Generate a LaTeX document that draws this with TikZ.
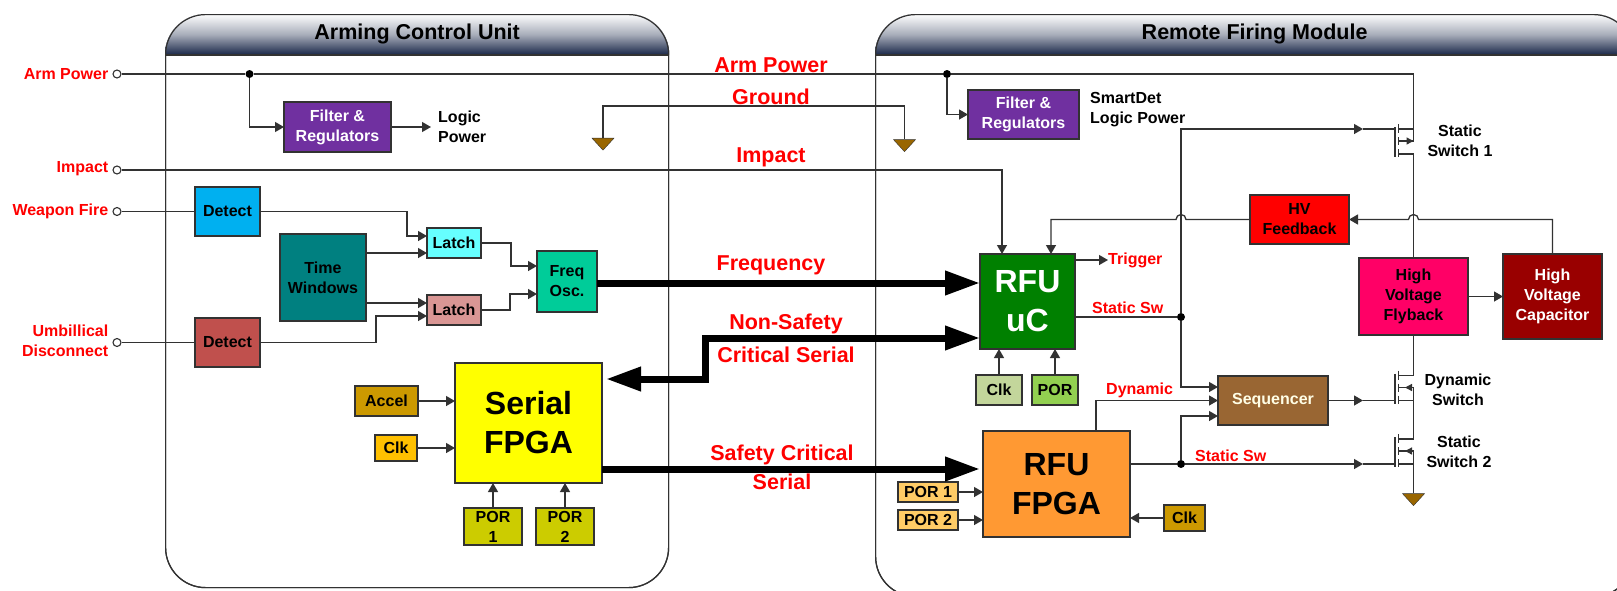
\documentclass[tikz,border=0pt]{standalone}
\usepackage{fontspec}
\setmainfont{Liberation Sans}
\usepackage{xcolor}
\usepackage{tikz}
\usetikzlibrary{arrows.meta,positioning,shapes.geometric}
\definecolor{wirecolor}{RGB}{50,50,50}
\definecolor{headercolor}{RGB}{24,38,72}
\definecolor{filtercolor}{RGB}{112,48,160}
\definecolor{accelcolor}{RGB}{204,153,0}
\definecolor{porcolor}{RGB}{204,204,0}
\definecolor{groundcolor}{RGB}{153,102,0}
\definecolor{purered}{RGB}{255,0,0}
\definecolor{pureyellow}{RGB}{255,255,0}

\begin{document}
\begin{tikzpicture}[
    x=1pt, y=-1pt,
    panel/.style={rectangle, draw=wirecolor, line width=1.2pt, rounded corners=40pt, anchor=north west, inner sep=0pt},
    header/.style={top color=white, bottom color=headercolor, middle color=white!62!headercolor},
    unittitle/.style={font=\fontsize{21.5}{24}\selectfont\bfseries, inner sep=0pt},
    block/.style={rectangle, draw=wirecolor, line width=1.2pt, inner sep=0pt, outer sep=0pt, align=center, font=\fontsize{16}{20}\selectfont\bfseries},
    bigblock/.style={block, font=\fontsize{32}{39}\selectfont\bfseries},
    boxsize/.style 2 args={minimum width=#1pt, minimum height=#2pt},
    wire/.style={draw=wirecolor, line width=1.3pt, >={Triangle[length=9pt,width=10pt]}},
    bigwire/.style={draw=black, line width=7pt, >={Triangle[length=35pt,width=23pt]}},
    junction/.style={circle, fill=black, inner sep=0pt, minimum size=8pt},
    terminal/.style={circle, draw=wirecolor, fill=white, line width=1.1pt, inner sep=0pt, minimum size=8pt},
    ground/.style={isosceles triangle, isosceles triangle stretches, shape border rotate=-90, draw=wirecolor, fill=groundcolor, inner sep=0pt, minimum height=12pt, minimum width=22pt},
    redtext/.style={text=purered, inner sep=0pt, align=right, font=\fontsize{16}{20}\selectfont\bfseries},
    bigred/.style={text=purered, inner sep=0pt, align=center, font=\fontsize{21.5}{29}\selectfont\bfseries},
    plaintext/.style={inner sep=0pt, font=\fontsize{16}{20}\selectfont\bfseries}
]
\useasboundingbox (0,0) rectangle (1617,590);
\clip (0,0) rectangle (1617,590);

% Panels
\node[panel, boxsize={503}{573}] (acu) at (165,14) {};
\node[panel, boxsize={758}{582}] (rfm) at (875,14) {};
\foreach \unit in {acu,rfm} {
  \shade[header] ([yshift=-41pt]\unit.north west) [rounded corners=40pt] -- (\unit.north west) -- (\unit.north east) [sharp corners] -- ([yshift=-41pt]\unit.north east) -- cycle;
  \draw[wirecolor, line width=1.2pt] ([yshift=-41pt]\unit.north west) -- ([yshift=-41pt]\unit.north east);
}
\node[panel, boxsize={503}{573}] at (165,14) {};
\node[panel, boxsize={758}{582}] at (875,14) {};
\node[unittitle, yshift=-20pt] (acutitle) at (acu.north) {Arming Control Unit};
\node[unittitle, yshift=-20pt] (rfmtitle) at (rfm.north) {Remote Firing Module};

% Inputs
\node[terminal] (armIn) at (117,74) {};
\node[terminal] (impactIn) at (117,170) {};
\node[terminal] (fireIn) at (117,211.5) {};
\node[terminal] (umbIn) at (117,342.5) {};
\node[redtext, left=4pt of armIn] (armLabel) {Arm Power};
\node[redtext, left=4pt of impactIn, yshift=1pt] (impactLabel) {Impact};
\node[redtext, left=4pt of fireIn] (fireLabel) {Weapon Fire};
\node[redtext, left=4pt of umbIn, yshift=2pt] (umbLabel) {Umbillical\\Disconnect};

% Arming Control Unit
\node[junction] (armDotA) at (249.5,74) {};
\node[block, boxsize={107}{50}, fill=filtercolor, text=white] (filtera) at (337.5,127) {Filter \&\\Regulators};
\node[plaintext, align=left, right=47pt of filtera] (logica) {Logic\\Power};
\node[block, boxsize={65}{49}, fill={rgb,255:red,0;green,176;blue,240}, anchor=north west] (fireDetect) at (195,187) {Detect};
\node[block, boxsize={65}{49}, fill={rgb,255:red,192;green,80;blue,77}, below=82pt of fireDetect] (umbDetect) {Detect};
\node[block, boxsize={86}{87}, fill={rgb,255:red,0;green,128;blue,128}, below right=-2pt and 20pt of fireDetect] (timeWin) {Time\\Windows};
\node[block, boxsize={54}{30}, fill={rgb,255:red,102;green,255;blue,255}, below right=-6pt and 61pt of timeWin.north east] (latcha) {Latch};
\node[block, boxsize={54}{30}, fill={rgb,255:red,217;green,150;blue,148}, below=37pt of latcha] (latchb) {Latch};
\node[block, boxsize={60}{61}, fill={rgb,255:red,0;green,204;blue,153}, below right=23pt and 56pt of latcha.north east] (freq) {Freq\\Osc.};
\node[bigblock, boxsize={147}{120}, fill=pureyellow, below right=38pt and 28pt of latchb.south west] (serial) {Serial\\FPGA};
\node[block, boxsize={63}{30}, fill=accelcolor, below left=23pt and 37pt of serial.north west] (accel) {Accel};
\node[block, boxsize={42}{26}, fill={rgb,255:red,255;green,192;blue,0}, below left=72pt and 38pt of serial.north west] (clka) {Clk};
\node[block, boxsize={58}{37}, fill=porcolor, below right=25pt and 9pt of serial.south west] (pora) {POR\\1};
\node[block, boxsize={58}{37}, fill=porcolor, right=14pt of pora] (porb) {POR\\2};

% Remote Firing Module
\node[junction] (armDotB) at (947,74) {};
\node[block, boxsize={111}{49}, fill=filtercolor, text=white] (filterb) at (1023.5,114.5) {Filter \&\\Regulators};
\node[plaintext, align=left, right=11pt of filterb, yshift=5pt] (logicb) {SmartDet\\Logic Power};
\node[bigblock, boxsize={95}{95}, fill={rgb,255:red,0;green,128;blue,0}, text=white] (uc) at (1027.5,301.5) {RFU\\uC};
\node[block, boxsize={46}{30}, fill={rgb,255:red,195;green,214;blue,155}, below left=26pt and 5.5pt of uc.south] (clkuc) {Clk};
\node[block, boxsize={46}{30}, fill={rgb,255:red,146;green,208;blue,80}, right=10pt of clkuc] (poruc) {POR};
\node[bigblock, boxsize={147}{106}, fill={rgb,255:red,255;green,153;blue,51}, below right=82pt and 3pt of uc.south west] (fpga) {RFU\\FPGA};
\node[block, boxsize={60}{20}, fill={rgb,255:red,255;green,204;blue,102}, below left=51pt and 25pt of fpga.north west] (porone) {POR 1};
\node[block, boxsize={60}{20}, fill={rgb,255:red,255;green,204;blue,102}, below=8pt of porone] (portwo) {POR 2};
\node[block, boxsize={41}{26}, fill=accelcolor, below right=74pt and 34pt of fpga.north east] (clkf) {Clk};
\node[block, boxsize={110}{49}, fill={rgb,255:red,153;green,102;blue,51}, text=white!90!yellow, above right=6pt and 88pt of fpga.north east] (seq) {Sequencer};
\node[block, boxsize={99}{49}, fill=purered] (hv) at (1299.5,219.5) {HV\\Feedback};
\node[block, boxsize={109}{77}, fill={rgb,255:red,255;green,0;blue,102}] (fly) at (1413.5,296.5) {High\\Voltage\\Flyback};
\node[block, boxsize={99}{85}, fill={rgb,255:red,153;green,0;blue,0}, text=white, right=35pt of fly] (cap) {High\\Voltage\\Capacitor};
\node[junction] (staticDotA) at (1181,317) {};
\node[junction] (staticDotB) at (1181,464) {};
\coordinate (hopA) at (1181,219.5);

% Grounds
\node[ground] (gnda) at (603,143) {};
\node[ground] (gndb) at (904.5,144.5) {};
\node[ground] (gndc) at (1413.5,498.5) {};

% Switches
\foreach \sw/\ty/\gy/\tip in {swa/129/129/->, swb/375.5/400.5/<-, swc/439/464/<-} {
  \coordinate (\sw-top) at (1413.5,\ty);
  \coordinate (\sw-mid) at (1413.5,\ty+12);
  \coordinate (\sw-bot) at (1413.5,\ty+25);
  \coordinate (\sw-gate) at (1395,\gy);
  \coordinate (\sw-in) at (1363,\gy);
  \draw[wire] (\sw-in) -- (\sw-gate);
  \draw[wire] (1395,\ty-2) -- (1395,\ty+28);
  \draw[wire] (1398.5,\ty-5) -- (1398.5,\ty+4);
  \draw[wire] (1398.5,\ty+8) -- (1398.5,\ty+16);
  \draw[wire] (1398.5,\ty+20) -- (1398.5,\ty+28);
  \draw[wire] (\sw-top) -- (1398.5,\ty);
  \draw[wire] (\sw-bot) -- (1398.5,\ty+25);
  \draw[wire] (\sw-mid) -- (1398.5,\ty+12);
  \draw[wire, \tip, >={Triangle[length=7pt,width=7pt]}] (1405,\ty+12) -- (\sw-mid);
}
\node[plaintext, align=center] (swaLabel) at (1460,140.5) {Static\\Switch 1};
\node[plaintext, align=center] (swbLabel) at (1458,389.5) {Dynamic\\Switch};
\node[plaintext, align=center] (swcLabel) at (1459,451.5) {Static\\Switch 2};

% Arrows
\draw[wire] (armIn) -- (armDotA);
\draw[wire] (armDotA) -- (armDotB);
\draw[wire] (armDotB) -| (swa-mid);
\draw[wire, ->] (armDotA) |- (filtera);
\draw[wire, ->, shorten >=7pt] (filtera) -- (logica);
\draw[wire, ->] (armDotB) |- (filterb);
\draw[wire] (gnda) -- (gnda |- 0,106) -- (gndb |- 0,106) -- (gndb);
\draw[wire, ->] (impactIn) -| ([xshift=-25.5pt]uc.north);
\draw[wire] (fireIn) -- (fireDetect);
\draw[wire] (umbIn) -- (umbDetect);
\draw[wire, ->] (fireDetect.east) -- ++(147,0) |- ([yshift=7pt]latcha.west);
\draw[wire, ->] ([yshift=-10pt]timeWin.east |- latcha.west) -- ([yshift=-10pt]latcha.west);
\draw[wire, ->] ([yshift=7pt]timeWin.east |- latchb.west) -- ([yshift=7pt]latchb.west);
\draw[wire, ->] (umbDetect.east) -- ++(116,0) |- ([yshift=-6pt]latchb.west);
\draw[wire, ->] (latcha.east) -- ++(30,0) |- ([yshift=15.5pt]freq.west);
\draw[wire, ->] (latchb.east) -- ++(29,0) |- ([yshift=-12.5pt]freq.west);
\draw[wire, ->] (accel.east) -- (accel.east -| serial.west);
\draw[wire, ->] (clka.east) -- (clka.east -| serial.west);
\draw[wire, ->] (pora.north) -- (pora.north |- serial.south);
\draw[wire, ->] (porb.north) -- (porb.north |- serial.south);

\draw[bigwire, ->] ([yshift=-1.5pt]freq.east) -- ([yshift=-1.5pt]freq.east -| uc.west);
\draw[bigwire, <->, shorten >=4pt] ([yshift=-36.5pt]uc.west) -| (705,358) |- ([yshift=44pt]serial.east);
\draw[bigwire, ->, shorten >=3pt] ([yshift=-46pt]serial.east) -- ([yshift=-46pt]serial.east -| fpga.west);

\draw[wire, ->] (clkuc.north) -- (clkuc.north |- uc.south);
\draw[wire, ->] (poruc.north) -- (poruc.north |- uc.south);
\draw[wire, ->] (porone.east) -- (porone.east -| fpga.west);
\draw[wire, ->] (portwo.east) -- (portwo.east -| fpga.west);
\draw[wire, ->] (clkf.west) -- (clkf.west -| fpga.east);
\draw[wire] ([yshift=-15.5pt]uc.east) -- (staticDotA);
\draw[wire, ->] (staticDotA) |- (swa-in);
\draw[wire, ->] (staticDotA) |- ([yshift=13.5pt]seq.west);
\draw[wire, ->] ([xshift=39.5pt]fpga.north) |- (seq.west);
\draw[wire] ([yshift=20pt]fpga.east) -- (staticDotB);
\draw[wire, ->] (staticDotB) |- ([yshift=-15.5pt]seq.west);
\draw[wire, ->] (staticDotB) -- (swc-in);
\draw[wire, ->] (seq.east) -- (swb-in);
\draw[wire] (swa-bot) -- (fly.north);
\draw[wire] (fly.south) -- (swb-top);
\draw[wire] (swb-mid) -- (swc-top);
\draw[wire] (swc-mid) -- (gndc);
\draw[wire, ->] (fly.east |- cap.west) -- (cap.west);
\draw[wire, ->] (cap.north) |- ([xshift=5pt]fly.north |- hv.east) arc[start angle=0, end angle=180, radius=5pt] -- (hv.east);
\draw[wire, ->] (hv.west) -- ([xshift=5pt]hopA) arc[start angle=0, end angle=180, radius=5pt] -| ([xshift=23.5pt]uc.north);

% Labels
\node[redtext, anchor=west] (trigger) at (1108,260) {Trigger};
\draw[wire, ->] ([yshift=41.5pt]uc.east) -- (trigger);
\node[redtext, anchor=west] (staticA) at (1092,308) {Static Sw};
\node[redtext, anchor=west] (dynamic) at (1106,390) {Dynamic};
\node[redtext, anchor=west] (staticB) at (1195,456) {Static Sw};
\node[bigred] (armText) at (771,65) {Arm Power};
\node[bigred] (groundText) at (771,97) {Ground};
\node[bigred] (impactText) at (771,157) {Impact};
\node[bigred] (freqText) at (771,265) {Frequency};
\node[bigred] (nonSafeText) at (786,338) {Non-Safety\\[4pt]Critical Serial};
\node[bigred] (safeText) at (782,467) {Safety Critical\\Serial};

\end{tikzpicture}
\end{document}
